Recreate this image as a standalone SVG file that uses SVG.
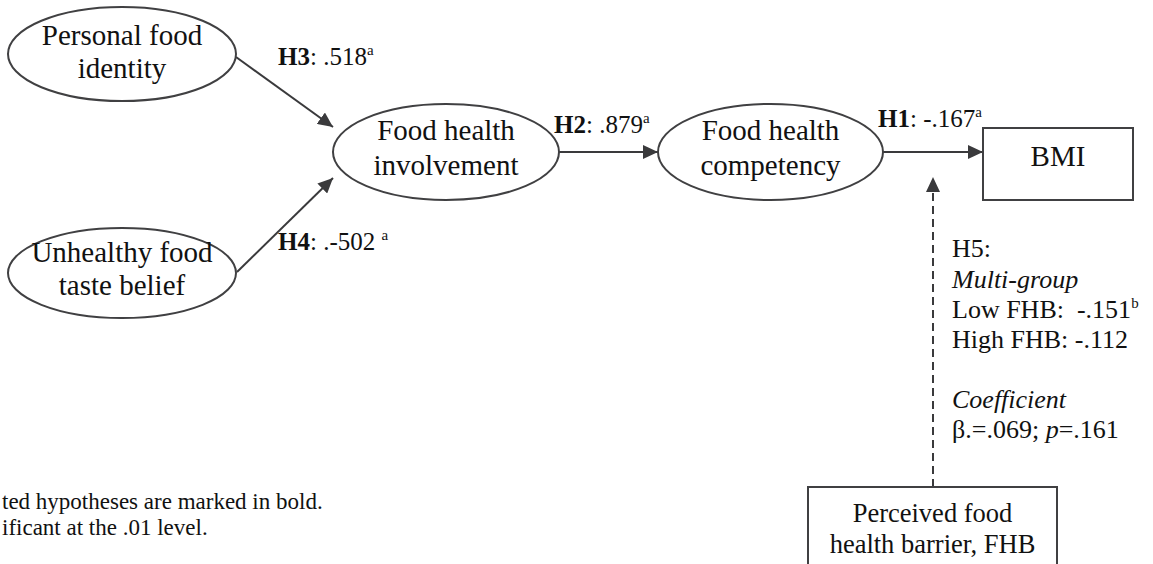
<svg xmlns="http://www.w3.org/2000/svg" width="1153" height="564" viewBox="0 0 1153 564">
<style>
text{font-family:"Liberation Serif","Times New Roman",serif;fill:#111}
.node{font-size:29px;text-anchor:middle}
.lbl{font-size:25px}
.h5{font-size:26px}
.note{font-size:23px}
.shape{fill:#fff;stroke:#404042;stroke-width:2}
.sup{font-size:15px}
.conn{stroke:#3a3a3c;stroke-width:2;fill:none}
</style>
<defs>
<marker id="ah" markerUnits="userSpaceOnUse" markerWidth="16" markerHeight="14" refX="15" refY="7" orient="auto">
<path d="M0,0 L15,7 L0,14 z" fill="#3a3a3c"/>
</marker>
</defs>
<rect width="1153" height="564" fill="#fff"/>
<g id="connectors">
<line class="conn" x1="236" y1="57" x2="333" y2="127" marker-end="url(#ah)"/>
<line class="conn" x1="237" y1="272" x2="333" y2="178" marker-end="url(#ah)"/>
<line class="conn" x1="559" y1="152" x2="658" y2="152" marker-end="url(#ah)"/>
<line class="conn" x1="883" y1="152" x2="983" y2="152" marker-end="url(#ah)"/>
<line class="conn" x1="933" y1="487" x2="933" y2="177" stroke-dasharray="8 5" marker-end="url(#ah)"/>
</g>
<g id="n_identity">
<ellipse class="shape" cx="122" cy="54" rx="114" ry="47"/>
<text class="node" x="122" y="45">Personal food</text>
<text class="node" x="122" y="78">identity</text>
</g>
<g id="n_taste">
<ellipse class="shape" cx="122" cy="273" rx="114" ry="45"/>
<text class="node" x="122" y="262">Unhealthy food</text>
<text class="node" x="122" y="295">taste belief</text>
</g>
<g id="n_involvement">
<ellipse class="shape" cx="446" cy="152" rx="113" ry="48"/>
<text class="node" x="446" y="140">Food health</text>
<text class="node" x="446" y="175">involvement</text>
</g>
<g id="n_competency">
<ellipse class="shape" cx="770.5" cy="152" rx="112.5" ry="48"/>
<text class="node" x="770.5" y="140">Food health</text>
<text class="node" x="770.5" y="175">competency</text>
</g>
<g id="n_bmi">
<rect class="shape" x="983" y="128" width="150" height="72"/>
<text class="node" x="1058" y="166">BMI</text>
</g>
<g id="n_fhb">
<rect class="shape" x="808" y="487" width="249" height="90"/>
<text class="node" x="932.5" y="522" style="font-size:26.5px">Perceived food</text>
<text class="node" x="932.5" y="553" style="font-size:26.5px">health barrier, FHB</text>
</g>
<g id="labels">
<text class="lbl" x="278" y="65"><tspan font-weight="bold">H3</tspan>: .518<tspan class="sup" dy="-10">a</tspan></text>
<text class="lbl" x="278" y="250"><tspan font-weight="bold">H4</tspan>: .-502 <tspan class="sup" dy="-10">a</tspan></text>
<text class="lbl" x="554" y="133"><tspan font-weight="bold">H2</tspan>: .879<tspan class="sup" dy="-10">a</tspan></text>
<text class="lbl" x="878" y="127"><tspan font-weight="bold">H1</tspan>: -.167<tspan class="sup" dy="-10">a</tspan></text>
<text class="h5" x="952" y="257">H5:</text>
<text class="h5" x="952" y="288" font-style="italic">Multi-group</text>
<text class="h5" x="952" y="318" xml:space="preserve">Low FHB:  -.151<tspan class="sup" dy="-10">b</tspan></text>
<text class="h5" x="952" y="348">High FHB: -.112</text>
<text class="h5" x="952" y="408" font-style="italic">Coefficient</text>
<text class="h5" x="952" y="438">β.=.069; <tspan font-style="italic">p</tspan>=.161</text>
<text class="note" x="2" y="509">ted hypotheses are marked in bold.</text>
<text class="note" x="2" y="535">ificant at the .01 level.</text>
</g>
</svg>
